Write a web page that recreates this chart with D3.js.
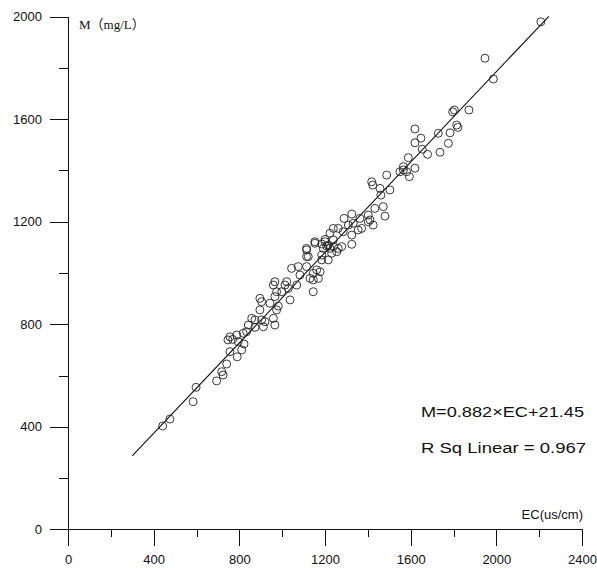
<!DOCTYPE html>
<html>
<head>
<meta charset="utf-8">
<script src="https://cdn.jsdelivr.net/npm/d3@7"></script>
<style>
  body { margin: 0; background: #fff; }
  svg { display: block; }
</style>
</head>
<body>
<div id="chart"></div>
<script>
// EC (us/cm) and M (mg/L) for each sample
const ecValues = [
    442, 476, 584, 598, 694, 718, 724, 741, 790, 811,
    756, 747, 769, 788, 795, 822, 834, 818, 756, 858,
    873, 842, 873, 912, 904, 920, 959, 966, 896, 943,
    982, 974, 896, 904, 966, 1037, 974, 998, 1029, 966,
    959, 1021, 1013, 1068, 1083, 1044, 1075, 1114, 1161, 1145,
    1177, 1130, 1169, 1145, 1145, 1114, 1114, 1185, 1215, 1153,
    1200, 1215, 1239, 1192, 1255, 1114, 1122, 1185, 1231, 1223,
    1262, 1278, 1325, 1185, 1208, 1153, 1200, 1239, 1325, 1223,
    1285, 1239, 1262, 1371, 1355, 1309, 1332, 1425, 1289, 1363,
    1325, 1402, 1410, 1402, 1480, 1433, 1472, 1461, 1457, 1503,
    1418, 1423, 1488, 1594, 1566, 1581, 1550, 1620, 1566, 1589,
    1679, 1737, 1654, 1776, 1620, 1648, 1784, 1729, 1620, 1815,
    1820, 1872, 1796, 1804, 1986, 1947, 2208
];
const mValues = [
    403, 430, 498, 554, 579, 615, 602, 645, 673, 700,
    693, 739, 741, 758, 732, 723, 771, 765, 751, 823,
    817, 797, 788, 790, 817, 810, 823, 797, 856, 882,
    871, 856, 901, 888, 908, 895, 927, 927, 940, 966,
    953, 966, 953, 953, 992, 1018, 1025, 1025, 1012, 999,
    1005, 979, 979, 973, 927, 1064, 1096, 1051, 1051, 1116,
    1122, 1109, 1103, 1096, 1083, 1090, 1064, 1070, 1077, 1096,
    1096, 1103, 1112, 1113, 1105, 1122, 1131, 1129, 1148, 1155,
    1161, 1174, 1174, 1174, 1168, 1187, 1194, 1187, 1213, 1213,
    1230, 1226, 1207, 1200, 1222, 1252, 1259, 1304, 1330, 1324,
    1356, 1343, 1382, 1376, 1402, 1395, 1395, 1409, 1415, 1450,
    1463, 1471, 1483, 1506, 1508, 1526, 1547, 1545, 1562, 1577,
    1568, 1636, 1629, 1636, 1757, 1838, 1980
];

// fitted line, as printed on the chart
const fitSlope = 0.882;
const fitIntercept = 21.45;
const fitRange = [300, 2245];

const xTicks = [0, 400, 800, 1200, 1600, 2000, 2400];
const xMinorTicks = [200, 600, 1000, 1400, 1800, 2200];
const yTicks = [0, 400, 800, 1200, 1600, 2000];
const yMinorTicks = [200, 600, 1000, 1400, 1800];

const eqText = "M=0.882\u00D7EC+21.45";
const rsqText = "R Sq Linear = 0.967";
const xTitle = "EC(us/cm)";
const yTitle = "M\uFF08mg/L\uFF09";


const width = 597, height = 568;
const plotLeft = 68, plotRight = 582, plotTop = 16.7, plotBottom = 529.3;

const svg = d3.select("#chart")
    .append("svg")
    .attr("width", width)
    .attr("height", height)
    .style("font-family", "'Liberation Sans', Arial, sans-serif");

svg.append("rect")
    .attr("width", width)
    .attr("height", height)
    .attr("fill", "#fff");

const x = d3.scaleLinear().domain([0, 2400]).range([plotLeft, plotRight]);
const y = d3.scaleLinear().domain([0, 2000]).range([plotBottom, plotTop]);
const fmt = d3.format("d");

// axes: minor ticks first, then major ticks with labels
const xMinor = svg.append("g")
    .attr("transform", `translate(0,${plotBottom})`)
    .call(d3.axisBottom(x).tickValues(xMinorTicks).tickSize(8).tickFormat(""));
const xMajor = svg.append("g")
    .attr("transform", `translate(0,${plotBottom})`)
    .call(d3.axisBottom(x).tickValues(xTicks).tickFormat(fmt)
        .tickSize(17).tickSizeOuter(0).tickPadding(8));

const yMinor = svg.append("g")
    .attr("transform", `translate(${plotLeft},0)`)
    .call(d3.axisLeft(y).tickValues(yMinorTicks).tickSize(9).tickFormat(""));
const yMajor = svg.append("g")
    .attr("transform", `translate(${plotLeft},0)`)
    .call(d3.axisLeft(y).tickValues(yTicks).tickFormat(fmt)
        .tickSize(18).tickSizeOuter(0).tickPadding(8));

[xMinor, xMajor, yMinor, yMajor].forEach(g => {
    g.selectAll("path, line").attr("stroke", "#111").attr("shape-rendering", "crispEdges");
    g.selectAll("text")
        .attr("fill", "#111")
        .style("font-size", "13px")
        .style("font-family", "'Liberation Sans', Arial, sans-serif");
});
xMinor.select(".domain").remove();
yMinor.select(".domain").remove();

// regression line
svg.append("line")
    .attr("x1", x(fitRange[0]))
    .attr("y1", y(fitSlope * fitRange[0] + fitIntercept))
    .attr("x2", x(fitRange[1]))
    .attr("y2", y(fitSlope * fitRange[1] + fitIntercept))
    .attr("stroke", "#111")
    .attr("stroke-width", 1.1);

// points
svg.append("g")
    .selectAll("circle")
    .data(ecValues.map((d, i) => [d, mValues[i]]))
    .enter()
    .append("circle")
    .attr("cx", d => x(d[0]))
    .attr("cy", d => y(d[1]))
    .attr("r", 4)
    .attr("fill", "none")
    .attr("stroke", "#222")
    .attr("stroke-width", 0.9);

// titles
svg.append("text")
    .attr("x", 79)
    .attr("y", 29)
    .style("font-family", "'Liberation Serif', 'Noto Sans CJK SC', serif")
    .style("font-size", "13px")
    .attr("fill", "#111")
    .text(yTitle);

svg.append("text")
    .attr("x", 583)
    .attr("y", 519)
    .attr("text-anchor", "end")
    .style("font-size", "13px")
    .attr("fill", "#111")
    .text(xTitle);

// equation and R squared
svg.append("text")
    .attr("x", 421)
    .attr("y", 416.5)
    .style("font-size", "14px")
    .attr("textLength", 163)
    .attr("lengthAdjust", "spacingAndGlyphs")
    .attr("fill", "#111")
    .text(eqText);

svg.append("text")
    .attr("x", 421)
    .attr("y", 453)
    .style("font-size", "14px")
    .attr("textLength", 165)
    .attr("lengthAdjust", "spacingAndGlyphs")
    .attr("fill", "#111")
    .text(rsqText);
</script>
</body>
</html>
